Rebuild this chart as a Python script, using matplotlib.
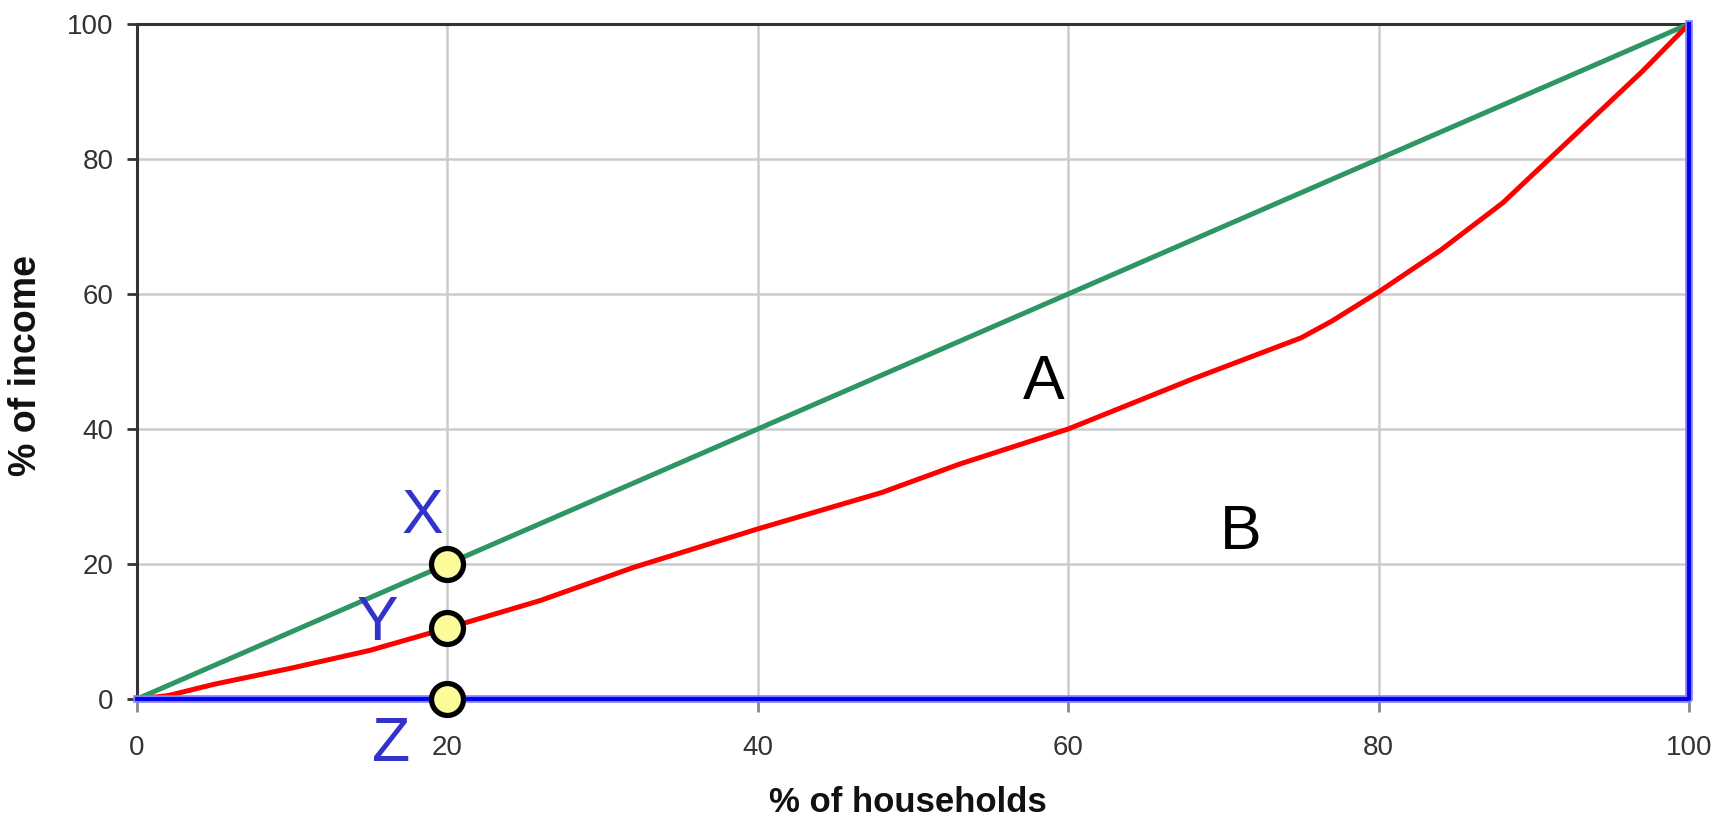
import matplotlib
matplotlib.use("Agg")
import matplotlib.pyplot as plt

# data
households = [0, 2, 5, 10, 15, 20, 26, 32, 40, 48, 53, 60, 68, 75, 77, 80, 84, 88, 91, 94, 97, 100]
income = [0, 0.5, 2.2, 4.6, 7.2, 10.5, 14.6, 19.5, 25.2, 30.6, 34.8, 40, 47.4, 53.5, 56, 60.3, 66.5, 73.5, 80, 86.5, 93, 100]
equality_x = [0, 100]
equality_y = [0, 100]
perfect_x = [0, 100, 100]
perfect_y = [0, 0, 100]
point_x = [20, 20, 20]
point_y = [20, 10.5, 0]
ticks = [0, 20, 40, 60, 80, 100]

plain = ["Liberation Sans", "DejaVu Sans"]

fig = plt.figure(figsize=(17.28, 8.24), dpi=100)
ax = fig.add_axes([137 / 1728, 1 - 699 / 824, 1552 / 1728, 675 / 824])

ax.set_xlim(0, 100)
ax.set_ylim(0, 100)
ax.set_xticks(ticks)
ax.set_yticks(ticks)
ax.grid(True, color="#cccccc", linewidth=1.8, zorder=0)
ax.set_axisbelow(True)

for s in ["top", "left"]:
    ax.spines[s].set_color("#333333")
    ax.spines[s].set_linewidth(2.2)
ax.spines["bottom"].set_color("#bdbdb5")
ax.spines["bottom"].set_linewidth(4)
ax.spines["right"].set_visible(False)

ax.tick_params(axis="y", length=7, width=2, color="#333333", pad=10)
ax.tick_params(axis="x", length=9, width=2, color="#888888", pad=17)
for lab in ax.get_xticklabels() + ax.get_yticklabels():
    lab.set_family(plain)
    lab.set_fontsize(20)
    lab.set_color("#333333")

ax.plot(equality_x, equality_y, color="#2e9663", linewidth=3.6, zorder=3)
ax.plot(households, income, color="#ff0000", linewidth=3.6, zorder=4)
ax.plot(perfect_x, perfect_y, color="#8080ff", linewidth=5.5, zorder=5, clip_on=False)
ax.plot(perfect_x, perfect_y, color="#0000f0", linewidth=2.8, zorder=6, clip_on=False)

ax.plot(point_x, point_y, "o", markersize=23, markerfacecolor="#fbfb9a",
        markeredgecolor="black", markeredgewidth=3.8, zorder=10, clip_on=False)

ax.text(18.4, 24.6, "X", color="#3333cc", fontsize=45, family=plain, ha="center", va="baseline")
ax.text(15.5, 8.7, "Y", color="#3333cc", fontsize=45, family=plain, ha="center", va="baseline")
ax.text(16.4, -9.2, "Z", color="#3333cc", fontsize=45, family=plain, ha="center", va="baseline",
        clip_on=False)
ax.text(58.4, 44.5, "A", color="black", fontsize=45, family=plain, ha="center", va="baseline")
ax.text(71.1, 22.2, "B", color="black", fontsize=45, family=plain, ha="center", va="baseline")

fig.text(26 / 1728, 1 - 365 / 824, "% of income", rotation=90, ha="center", va="center",
         fontsize=27, fontweight="bold", family=plain, color="#111111")
fig.text(0.5255, 12 / 824, "% of households", ha="center", va="baseline",
         fontsize=25, fontweight="bold", family=plain, color="#111111")

fig.savefig("out.png", dpi=100)
